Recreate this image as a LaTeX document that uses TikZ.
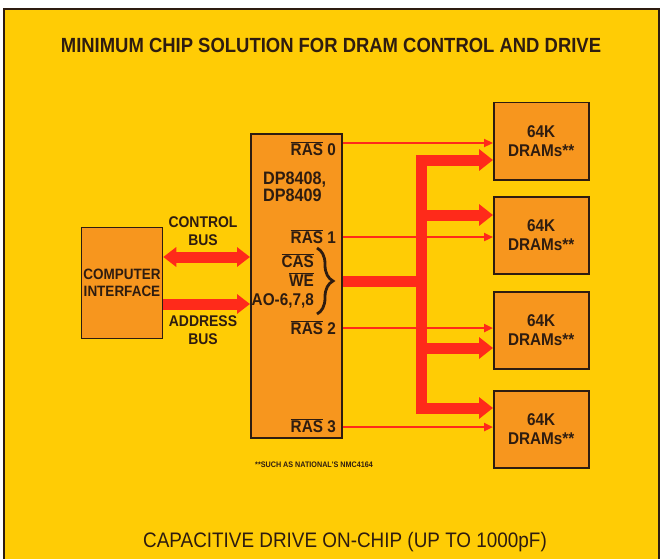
\documentclass[tikz,border=0pt]{standalone}
\usepackage{fontspec}
\setmainfont{Liberation Sans}
\newfontfamily\condfont[FakeStretch=0.9]{Liberation Sans}
\usetikzlibrary{arrows.meta,calc,positioning,decorations.pathreplacing}
\definecolor{DramYellow}{HTML}{FFCC05}
\definecolor{DramOrange}{HTML}{F7961E}
\definecolor{BusRed}{HTML}{FF2A1A}
\definecolor{InkBrown}{HTML}{2E1C10}
\newcommand{\barred}[1]{$\overline{\mbox{#1}}$}

\begin{document}
\begin{tikzpicture}[x=1pt,y=-1pt,
  box/.style={draw=InkBrown,line width=1.5pt,fill=DramOrange,inner sep=0pt,align=center,
    font=\condfont\bfseries\fontsize{17}{19}\selectfont,text=InkBrown},
  lbl/.style={font=\condfont\bfseries\fontsize{17}{18}\selectfont,text=InkBrown,inner sep=0pt},
  wire/.style={BusRed,line width=2.5pt,-{Triangle[width=8pt,length=9pt]}},
  bus/.style={BusRed,line width=11pt},
  bushead/.style={-{Triangle[width=21pt,length=14pt]}}]
  \useasboundingbox (0,0) rectangle (663,559);
  \fill[white] (0,0) rectangle (663,559);
  \fill[DramYellow] (4,9) rectangle (659,559);
  \draw[InkBrown,line width=1.2pt] (4,559) -- (4,9) -- (659,9) -- (659,559);
  % title and caption
  \node[lbl,font=\condfont\bfseries\fontsize{20.5}{22}\selectfont] (title) at (331,45)
    {MINIMUM CHIP SOLUTION FOR DRAM CONTROL AND DRIVE};
  \node[lbl,font=\condfont\fontsize{21}{23}\selectfont] (drive) at (345,542)
    {CAPACITIVE DRIVE ON-CHIP (UP TO 1000pF)};
  % boxes
  \node[box,minimum width=81,minimum height=111,font=\condfont\bfseries\fontsize{15}{16.5}\selectfont]
    (cpu) at (122,283) {COMPUTER\\INTERFACE};
  \node[box,minimum width=91,minimum height=304,anchor=north west] (chip) at (250,133) {};
  \foreach \n/\y in {1/102,2/196,3/291,4/390}
    \node[box,minimum width=95,minimum height=77,anchor=north west] (dram\n) at (493,\y) {64K\\DRAMs**};
  % chip pins
  \node[lbl,anchor=east] (ras0) at (336,149) {\barred{RAS} 0};
  \node[lbl,anchor=east] (ras1) at (336,237) {\barred{RAS} 1};
  \node[lbl,anchor=east] (ras2) at (336,328) {\barred{RAS} 2};
  \node[lbl,anchor=east] (ras3) at (336,426) {\barred{RAS} 3};
  \node[lbl,anchor=north west,align=left,font=\condfont\bfseries\fontsize{18}{17}\selectfont]
    (part) at (263,172) {DP8408,\\DP8409};
  \node[lbl,anchor=east,align=right,font=\condfont\bfseries\fontsize{17}{19}\selectfont]
    (addr) at (314,281) {\barred{CAS}\\\barred{WE}\\AO-6,7,8};
  \draw[InkBrown,line width=2.8pt,decorate,decoration={brace,amplitude=16pt}] (317,248) -- (317,314);
  % host side buses
  \node[lbl,align=center,font=\condfont\bfseries\fontsize{15.5}{18}\selectfont] (ctrl) at (203,231) {CONTROL\\BUS};
  \node[lbl,align=center,font=\condfont\bfseries\fontsize{15.5}{18}\selectfont] (abus) at (203,330) {ADDRESS\\BUS};
  \draw[bus,{Triangle[width=19pt,length=13pt]}-{Triangle[width=19pt,length=13pt]}]
    (cpu.east |- 0,257) -- (chip.west |- 0,257);
  \draw[bus,-{Triangle[width=19pt,length=13pt]}] (cpu.east |- 0,304) -- (chip.west |- 0,304);
  % RAS lines
  \draw[wire] (chip.east |- 0,143) -- (dram1.west |- 0,143);
  \draw[wire] (chip.east |- ras1) -- (dram2.west |- ras1);
  \draw[wire] (chip.east |- ras2) -- (dram3.west |- ras2);
  \draw[wire] (chip.east |- 0,427) -- (dram4.west |- 0,427);
  % address fan-out
  \coordinate (spine) at (421,281);
  \draw[bus] (chip.east |- spine) -- (spine);
  \draw[bus,line cap=rect] (421,160) -- (421,408);
  \foreach \n/\y in {1/160,2/215,3/348,4/408}
    \draw[bus,bushead] (421,\y) -- (dram\n.west |- 0,\y);
  \node[lbl,font=\condfont\bfseries\fontsize{8}{9}\selectfont] (note) at (314,465)
    {**SUCH AS NATIONAL'S NMC4164};
\end{tikzpicture}
\end{document}
